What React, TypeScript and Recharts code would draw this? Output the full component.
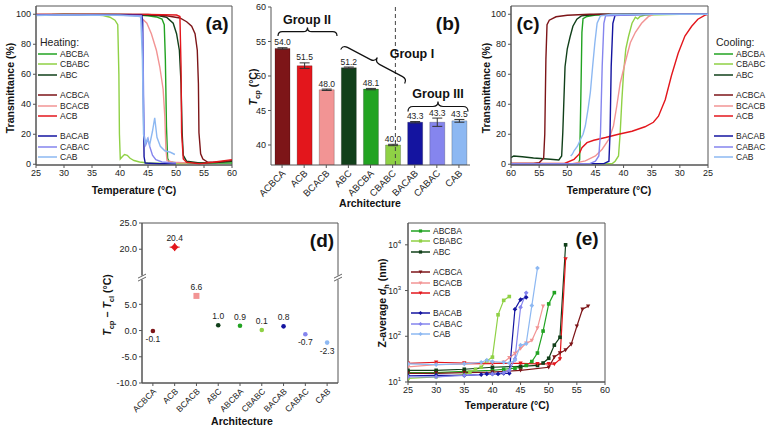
import React from 'react';
import {
  LineChart, Line, XAxis, YAxis, ReferenceArea, ReferenceLine, ReferenceDot,
  BarChart, Bar, Cell, ErrorBar, LabelList, ScatterChart, Scatter,
} from 'recharts';

const FONT = '"Liberation Sans", Arial, Helvetica, sans-serif';
const AXIS = '#555';
const INK = '#222';

// colours per polymer architecture (same in every panel)
const COLORS: Record<string, string> = {
  ABCBA: '#22a322',
  CBABC: '#8fd145',
  ABC: '#11401a',
  ACBCA: '#7d1518',
  BCACB: '#f29494',
  ACB: '#e3161c',
  BACAB: '#1414a0',
  CABAC: '#8585ee',
  CAB: '#8db8f2',
};
const LEGEND_GROUPS = [['ABCBA', 'CBABC', 'ABC'], ['ACBCA', 'BCACB', 'ACB'], ['BACAB', 'CABAC', 'CAB']];

const T_TICKS = [25, 30, 35, 40, 45, 50, 55, 60];
const PCT_TICKS = [0, 20, 40, 60, 80, 100];

// (a) heating turbidimetry: [T °C, transmittance %]
const heatABCBA = [[25, 99.6], [30, 99.8], [35, 99.8], [40, 99.7], [43, 99.5], [45, 99], [46.5, 98.2], [47.5, 96.8], [47.9, 93], [48.1, 70], [48.3, 25], [48.5, 4], [48.8, 1.5], [50, 1], [55, 0.8], [60, 0.8]];
const heatCBABC = [[25, 99.7], [30, 99.8], [35, 99.6], [37, 99.2], [38.2, 98], [39.1, 96], [39.6, 93], [39.8, 60], [39.9, 20], [40.05, 3.5], [40.4, 5], [40.8, 6.5], [41.3, 6], [41.8, 4], [42.5, 2.5], [43.5, 1.5], [45, 0.8], [48, 0.5], [52, 0.5]];
const heatABC = [[25, 99.6], [30, 99.8], [35, 99.8], [40, 99.8], [45, 99.5], [47, 99], [48.3, 98], [49.5, 94], [50.1, 87], [50.6, 76], [50.9, 54], [51.1, 21], [51.3, 6], [51.9, 2], [54.2, 0.8], [57, 1.2], [60, 2]];
const heatACBCA = [[25, 99.8], [35, 99.9], [45, 99.8], [48.3, 99], [50.7, 97.5], [51.9, 95], [52.8, 92], [53.4, 87], [53.8, 76], [54, 54], [54.1, 21], [54.4, 7], [54.8, 3.5], [55.7, 1.3], [57.2, 1.3], [60, 2.4]];
const heatBCACB = [[25, 99.7], [35, 99.8], [42, 99.5], [43.6, 98.4], [44.8, 94], [45.6, 87], [46.5, 76], [47.1, 65], [47.7, 50], [48, 32], [48.2, 10], [48.4, 2.4], [49.5, 1.3], [52, 0.8]];
const heatACB = [[25, 99.8], [35, 99.9], [45, 99.9], [50.1, 99.5], [50.7, 98.5], [50.9, 65], [51, 21], [51.3, 3.5], [51.9, 1.3], [54.2, 0.3], [56.6, 1.3], [60, 3.1]];
const heatBACAB = [[25, 99.5], [30, 99.7], [35, 99.7], [40, 99.6], [43.9, 99.4], [44.05, 95], [44.15, 50], [44.3, 5], [44.5, 0.8], [47, 0.3], [50, 0.3]];
const heatCABAC = [[25, 99.5], [35, 99.6], [43.8, 99], [44.1, 80], [44.3, 20], [44.6, 13], [45, 17], [45.3, 12], [45.8, 6], [46.4, 3], [47.5, 1.5], [49, 1], [50, 0.8]];
const heatCAB = [[25, 99.2], [30, 99.6], [35, 99.3], [40, 99.4], [43.7, 98.5], [44, 70], [44.2, 20], [44.5, 13.5], [44.9, 17], [45.3, 13], [45.8, 22], [46.2, 31], [46.6, 18], [47.2, 12], [48, 9], [49, 8], [49.8, 6.5]];

// (c) cooling turbidimetry: [T °C, transmittance %]
const coolABCBA = [[60, 0.4], [55, 0.4], [50, 0.4], [48, 0.5], [47.8, 3], [47.6, 43], [47.4, 88], [47.2, 97], [46.5, 98.5], [45, 99.5], [40, 100], [25, 100]];
const coolCBABC = [[60, 0.3], [50, 0.3], [42, 0.4], [41.5, 2], [40.9, 5.5], [40.6, 21], [40.3, 43], [40, 61], [39.6, 77], [39.1, 85.5], [38.5, 94], [37.9, 98], [37.5, 97], [37.1, 98.4], [36.2, 99.5], [30, 100], [25, 100]];
const coolABC = [[60, 4.4], [59.5, 5.5], [58, 5], [56, 4.2], [53, 3.3], [51.5, 2.9], [51, 5.5], [50.8, 21], [50.6, 43], [50.4, 65], [50, 77], [49.5, 85], [49, 92], [48.3, 96.7], [47.5, 98.9], [46, 99.5], [44, 100], [25, 100]];
const coolACBCA = [[60, 0.5], [56, 0.5], [55, 1], [54.2, 4], [54, 20], [53.8, 70], [53.6, 93], [53.2, 96], [52, 98.3], [50, 99.3], [46, 100], [25, 100]];
const coolBCACB = [[49.1, 0.4], [46.8, 2.2], [45, 5.5], [43.8, 10], [42.6, 16.7], [41.8, 25.5], [41.2, 39], [40.6, 54], [39.7, 68], [38.8, 81], [37.9, 88], [36.8, 94], [35.6, 98.4], [34.7, 100], [25, 100]];
const coolACB = [[60, 0.5], [50.5, 0.5], [48.8, 3.3], [47.9, 6.7], [47.4, 11], [46.5, 14.4], [45.3, 16], [43.2, 17.8], [40.9, 20], [38.5, 22], [36.2, 25], [34.7, 28], [33.8, 32], [32.6, 43], [31.5, 59], [30.3, 74], [29.1, 85.5], [27.9, 92], [26.8, 96.7], [25.6, 99.3], [25, 100]];
const coolBACAB = [[60, 0.3], [50, 0.3], [43.5, 0.4], [42.6, 2], [42.4, 21], [42.2, 65], [41.9, 94], [41.5, 99.5], [35, 100], [25, 100]];
const coolCABAC = [[60, 0.3], [50, 0.3], [46, 0.4], [45, 2], [44.4, 5.5], [44.1, 21], [43.8, 65], [43.5, 94], [43.2, 99], [35, 100], [25, 100]];
const coolCAB = [[49.4, 5.5], [49.1, 6.7], [48.8, 9], [48.2, 12], [47.6, 17], [47.2, 20], [46.8, 25.5], [46.3, 37], [45.9, 48], [45.5, 65], [45.1, 81], [44.7, 94], [44.1, 99], [42, 100], [25, 100]];

// (b) and (d): one value per architecture
const ARCH = ['ACBCA', 'ACB', 'BCACB', 'ABC', 'ABCBA', 'CBABC', 'BACAB', 'CABAC', 'CAB'];
const TCP = [54.0, 51.5, 48.0, 51.2, 48.1, 40.0, 43.3, 43.3, 43.5];
const TCP_ERR = [0.1, 0.4, 0.1, 0.1, 0.1, 0.1, 0.1, 0.6, 0.2];
const HYST = [-0.1, 20.4, 6.6, 1.0, 0.9, 0.1, 0.8, -0.7, -2.3];

// (e) DLS z-average size: [T °C, d_h nm]
const dlsABCBA = [[25, 16], [30, 16], [35, 17], [40, 18], [42, 19], [44, 20], [45, 21], [46, 23], [47, 28], [48, 43], [49, 130], [50, 510], [51, 900]];
const dlsCBABC = [[25, 12], [30, 13], [35, 14.5], [36, 16.5], [37, 19], [38, 21], [39, 29], [40, 35], [41, 295], [42, 610], [43, 740]];
const dlsABC = [[25, 18], [30, 18], [35, 19], [40, 21], [45, 22], [48, 23], [49, 26], [50, 33], [51, 64], [52, 95], [53, 10000]];
const dlsACBCA = [[25, 15.5], [30, 15.5], [35, 16], [40, 16.5], [45, 18], [50, 21], [51, 35], [52, 43], [53, 50], [54, 67], [55, 166], [56, 390], [57, 455]];
const dlsBCACB = [[25, 21.5], [30, 24], [35, 24.5], [40, 25], [42, 27], [43, 34], [44, 42], [45, 54], [46, 70], [47, 81], [48, 151], [49, 455]];
const dlsACB = [[25, 25.5], [30, 27], [35, 26], [40, 25.5], [45, 25.5], [48, 25], [50, 25], [51, 24.6], [52, 31.6], [53, 4900]];
const dlsBACAB = [[25, 13.7], [30, 14], [35, 14], [38, 14.5], [39, 15], [40, 15], [41, 15], [42, 15.5], [43, 15.5], [44, 390], [45, 635], [46, 710]];
const dlsCABAC = [[25, 13], [30, 13], [35, 14], [40, 15], [42, 16], [43, 18], [44, 32], [45, 430], [46, 890]];
const dlsCAB = [[25, 25], [30, 24], [35, 25], [38, 27], [39, 30], [40, 28], [42, 27], [43, 26], [44, 30], [45, 64], [46, 69], [47, 470], [48, 3100]];

const HEATING: Record<string, number[][]> = { ABCBA: heatABCBA, CBABC: heatCBABC, ABC: heatABC, ACBCA: heatACBCA, BCACB: heatBCACB, ACB: heatACB, BACAB: heatBACAB, CABAC: heatCABAC, CAB: heatCAB };
const COOLING: Record<string, number[][]> = { ABCBA: coolABCBA, CBABC: coolCBABC, ABC: coolABC, ACBCA: coolACBCA, BCACB: coolBCACB, ACB: coolACB, BACAB: coolBACAB, CABAC: coolCABAC, CAB: coolCAB };
const DLS: Record<string, number[][]> = { ABCBA: dlsABCBA, CBABC: dlsCBABC, ABC: dlsABC, ACBCA: dlsACBCA, BCACB: dlsBCACB, ACB: dlsACB, BACAB: dlsBACAB, CABAC: dlsCABAC, CAB: dlsCAB };

const toPts = (arr: number[][]) => arr.map(([t, v]) => ({ t, v }));
const TICK = { fontSize: 9, fill: INK, fontFamily: FONT };

// axis break for panel (d): values above the break are moved down by 4.5
const BREAK_AT = 10;
const BREAK_SHIFT = 4.5;
const brk = (v: number) => (v > BREAK_AT ? v - BREAK_SHIFT : v);
const unbrk = (v: number) => (v > BREAK_AT ? v + BREAK_SHIFT : v);

function groupOf(name: string) {
  return LEGEND_GROUPS.findIndex((g) => g.includes(name));
}

function Marker({ cx, cy, color, group, r = 1.8 }: any) {
  if (cx == null || cy == null) return null;
  if (group === 0) return <rect x={cx - r} y={cy - r} width={r * 2} height={r * 2} fill={color} />;
  if (group === 1) return <path d={`M${cx - r * 1.2},${cy - r} L${cx + r * 1.2},${cy - r} L${cx},${cy + r * 1.2} Z`} fill={color} />;
  return <path d={`M${cx},${cy - r * 1.3} L${cx + r * 1.3},${cy} L${cx},${cy + r * 1.3} L${cx - r * 1.3},${cy} Z`} fill={color} />;
}

function SeriesLegend({ left, top, title, markers }: any) {
  const rows: any[] = [];
  LEGEND_GROUPS.forEach((g, gi) => g.forEach((name, i) => rows.push({ name, gi, row: gi * 4 + i })));
  return (
    <div style={{ position: 'absolute', left, top, fontFamily: FONT, color: INK }}>
      {title && <div style={{ position: 'absolute', left: 2, top: -18, fontSize: 10.5, whiteSpace: 'nowrap' }}>{title}</div>}
      {rows.map((r) => (
        <div key={r.name} style={{ position: 'absolute', left: 0, top: r.row * 10.3 - 5, height: 10, display: 'flex', alignItems: 'center', whiteSpace: 'nowrap' }}>
          <svg width={20} height={10} style={{ display: 'block' }}>
            <line x1={0} y1={5} x2={19} y2={5} stroke={COLORS[r.name]} strokeWidth={1.5} />
            {markers && <Marker cx={9.5} cy={5} color={COLORS[r.name]} group={r.gi} r={1.6} />}
          </svg>
          <span style={{ fontSize: 8.5, marginLeft: 2 }}>{r.name}</span>
        </div>
      ))}
    </div>
  );
}

function TransPanel({ left, width, margin, series, reversed }: any) {
  return (
    <div style={{ position: 'absolute', left, top: 0 }}>
      <LineChart width={width} height={210} margin={margin}>
        <XAxis type="number" dataKey="t" domain={[25, 60]} ticks={T_TICKS} interval={0} reversed={reversed} allowDataOverflow height={30} tick={TICK} tickSize={3} stroke={AXIS} />
        <YAxis type="number" domain={[-0.5, 105.5]} ticks={PCT_TICKS} interval={0} allowDataOverflow width={30} tick={TICK} tickSize={3} stroke={AXIS} />
        <ReferenceArea x1={25} x2={60} y1={-0.5} y2={105.5} fill="none" stroke={AXIS} strokeWidth={1} />
        {Object.keys(series).map((name) => (
          <Line key={name} data={toPts(series[name])} dataKey="v" type="linear" dot={false} stroke={COLORS[name]} strokeWidth={1.4} isAnimationActive={false} />
        ))}
      </LineChart>
    </div>
  );
}

function RotTick({ x, y, payload, labels, size }: any) {
  const label = labels ? labels[payload.value] : payload.value;
  const ax = x + 4;
  const ay = y + 4;
  return (
    <text x={ax} y={ay} transform={`rotate(-45 ${ax} ${ay})`} textAnchor="end" fontSize={size} fill={INK} fontFamily={FONT}>
      {label}
    </text>
  );
}

function BarValue({ x, y, width, value, index }: any) {
  const errPx = TCP_ERR[index] * 6.9;
  return (
    <text x={x + width / 2} y={y - errPx - 2.5} textAnchor="middle" fontSize={8.5} fill={INK} fontFamily={FONT}>
      {Number(value).toFixed(1)}
    </text>
  );
}

function BreakMark({ cx, cy }: any) {
  if (cx == null || cy == null) return null;
  return (
    <g>
      <rect x={cx - 4} y={cy - 2.5} width={8} height={4} fill="#fff" />
      <line x1={cx - 4} y1={cy} x2={cx + 4} y2={cy - 4} stroke={AXIS} strokeWidth={0.9} />
      <line x1={cx - 4} y1={cy + 3} x2={cx + 4} y2={cy - 1} stroke={AXIS} strokeWidth={0.9} />
    </g>
  );
}

function HystPoint({ cx, cy, payload }: any) {
  if (cx == null || cy == null) return null;
  const c = COLORS[payload.name];
  const raw = payload.raw;
  let mark;
  if (payload.name === 'ACB') {
    mark = (
      <g>
        <line x1={cx} y1={cy - 4} x2={cx} y2={cy + 4} stroke={c} strokeWidth={1} />
        <line x1={cx - 5} y1={cy} x2={cx + 5} y2={cy} stroke={c} strokeWidth={1} />
        <path d={`M${cx},${cy - 3.8} L${cx + 3.8},${cy} L${cx},${cy + 3.8} L${cx - 3.8},${cy} Z`} fill={c} />
      </g>
    );
  } else if (payload.name === 'BCACB') {
    mark = <rect x={cx - 3} y={cy - 3} width={6} height={6} fill={c} />;
  } else {
    mark = <circle cx={cx} cy={cy} r={2.3} fill={c} />;
  }
  const below = raw < 0;
  return (
    <g>
      {mark}
      <text x={cx} y={below ? cy + 11 : cy - 6} textAnchor="middle" fontSize={8.5} fill={INK} fontFamily={FONT}>
        {raw.toFixed(1)}
      </text>
    </g>
  );
}

function PowTick({ x, y, payload }: any) {
  const exp = Math.round(Math.log10(payload.value));
  return (
    <text x={x - 2} y={y + 3} textAnchor="end" fontSize={8.5} fill={INK} fontFamily={FONT}>
      10<tspan dy={-4} fontSize={6}>{exp}</tspan>
    </text>
  );
}

function bracePath(len: number, h: number) {
  const m = len / 2;
  return `M0,${h} Q0,0 ${h},0 L${m - h},0 Q${m},0 ${m},${-h} Q${m},0 ${m + h},0 L${len - h},0 Q${len},0 ${len},${h}`;
}

function Titles() {
  const bold = { fontFamily: FONT, fontWeight: 700, fontSize: 10.5, fill: '#111' } as any;
  const panel = { fontFamily: FONT, fontWeight: 700, fontSize: 19, fill: '#111' } as any;
  const group = { fontFamily: FONT, fontWeight: 700, fontSize: 12.5, fill: '#111' } as any;
  const ga = Math.atan2(79 - 45, 407 - 343) * 180 / Math.PI;
  const gl = Math.hypot(407 - 343, 79 - 45);
  return (
    <svg width={767} height={429} style={{ position: 'absolute', left: 0, top: 0, pointerEvents: 'none' }}>
      {/* axis titles */}
      <text x={134} y={194} textAnchor="middle" {...bold}>Temperature (°C)</text>
      <text transform="translate(14,88) rotate(-90)" textAnchor="middle" {...bold}>Transmittance (%)</text>
      <text x={370} y={207} textAnchor="middle" {...bold}>Architecture</text>
      <text transform="translate(257,87) rotate(-90)" textAnchor="middle" {...bold}>
        <tspan fontStyle="italic">T</tspan><tspan dy={2.5} fontSize={7.5}>cp</tspan><tspan dy={-2.5}> (°C)</tspan>
      </text>
      <text x={609} y={194} textAnchor="middle" {...bold}>Temperature (°C)</text>
      <text transform="translate(490,88) rotate(-90)" textAnchor="middle" {...bold}>Transmittance (%)</text>
      <text x={242} y={425} textAnchor="middle" {...bold}>Architecture</text>
      <text transform="translate(111,305) rotate(-90)" textAnchor="middle" {...bold}>
        <tspan fontStyle="italic">T</tspan><tspan dy={2.5} fontSize={7.5}>cp</tspan><tspan dy={-2.5}> − </tspan>
        <tspan fontStyle="italic">T</tspan><tspan dy={2.5} fontSize={7.5}>cl</tspan><tspan dy={-2.5}> (°C)</tspan>
      </text>
      <text x={507} y={409} textAnchor="middle" {...bold}>Temperature (°C)</text>
      <text transform="translate(386,303) rotate(-90)" textAnchor="middle" {...bold}>
        Z-average <tspan fontStyle="italic">d</tspan><tspan dy={2.5} fontSize={7.5}>h</tspan><tspan dy={-2.5}> (nm)</tspan>
      </text>
      {/* panel letters */}
      <text x={217} y={30} textAnchor="middle" {...panel}>(a)</text>
      <text x={448} y={30} textAnchor="middle" {...panel}>(b)</text>
      <text x={528} y={30} textAnchor="middle" {...panel}>(c)</text>
      <text x={322} y={247} textAnchor="middle" {...panel}>(d)</text>
      <text x={587} y={245} textAnchor="middle" {...panel}>(e)</text>
      {/* groups in (b) */}
      <text x={307} y={24} textAnchor="middle" {...group}>Group II</text>
      <path d={bracePath(59, 4.3)} transform="translate(278,31.7)" fill="none" stroke="#111" strokeWidth={1.2} />
      <text x={412} y={58} textAnchor="middle" {...group}>Group I</text>
      <path d={bracePath(gl, 5)} transform={`translate(343,45) rotate(${ga})`} fill="none" stroke="#111" strokeWidth={1.2} />
      <text x={438} y={98} textAnchor="middle" {...group}>Group III</text>
      <path d={bracePath(60, 5)} transform="translate(408,106.5)" fill="none" stroke="#111" strokeWidth={1.2} />
    </svg>
  );
}

export default function App() {
  const barData = ARCH.map((name, i) => ({ name, v: TCP[i], err: TCP_ERR[i] }));
  const hystData = ARCH.map((name, i) => ({ x: i, y: brk(HYST[i]), raw: HYST[i], name }));
  const dTicks = [-10, -5, 0, 5, brk(20), brk(25)];

  return (
    <div style={{ position: 'absolute', left: 0, top: 0, width: 767, height: 429, background: '#fff', fontFamily: FONT, overflow: 'hidden' }}>
      {/* (a) heating */}
      <TransPanel left={0} width={250} margin={{ top: 6, right: 18, bottom: 15, left: 6 }} series={HEATING} reversed={false} />

      {/* (b) cloud points */}
      <div style={{ position: 'absolute', left: 250, top: 0 }}>
        <BarChart width={250} height={210} data={barData} margin={{ top: 7, right: 30, bottom: 5, left: 1 }} barSize={15}>
          <XAxis dataKey="name" interval={0} height={40} tickSize={3} stroke={AXIS} tick={(p: any) => <RotTick {...p} size={9.5} />} />
          <XAxis xAxisId="n" type="number" domain={[0, 9]} hide />
          <YAxis type="number" domain={[37.1, 60]} ticks={[40, 45, 50, 55, 60]} interval={0} allowDataOverflow width={20} tick={TICK} tickSize={3} stroke={AXIS} />
          <ReferenceArea xAxisId="n" x1={0} x2={9} y1={37.1} y2={60} fill="none" stroke={AXIS} />
          <ReferenceLine xAxisId="n" x={5} stroke="#444" strokeDasharray="4 3" />
          <Bar dataKey="v" isAnimationActive={false} strokeWidth={0.6}>
            {barData.map((d) => (
              <Cell key={d.name} fill={COLORS[d.name]} stroke="rgba(0,0,0,0.35)" />
            ))}
            <ErrorBar dataKey="err" width={5} stroke="#333" strokeWidth={1} />
            <LabelList dataKey="v" content={BarValue} />
          </Bar>
        </BarChart>
      </div>

      {/* (c) cooling */}
      <TransPanel left={470} width={297} margin={{ top: 6, right: 59, bottom: 15, left: 11 }} series={COOLING} reversed />

      {/* (d) hysteresis */}
      <div style={{ position: 'absolute', left: 100, top: 210 }}>
        <ScatterChart width={260} height={219} margin={{ top: 13, right: 22, bottom: 6, left: 6 }}>
          <XAxis type="number" dataKey="x" domain={[-0.5, 8.5]} ticks={[0, 1, 2, 3, 4, 5, 6, 7, 8]} interval={0} allowDataOverflow height={40} tickSize={3} stroke={AXIS}
            tick={(p: any) => <RotTick {...p} labels={ARCH} size={8.5} />} />
          <YAxis type="number" dataKey="y" domain={[-10, brk(25)]} ticks={dTicks} interval={0} allowDataOverflow width={36} tick={TICK} tickSize={3} stroke={AXIS}
            tickFormatter={(v: number) => unbrk(v).toFixed(1)} />
          <ReferenceArea x1={-0.5} x2={8.5} y1={-10} y2={brk(25)} fill="none" stroke={AXIS} />
          <ReferenceDot x={-0.5} y={BREAK_AT} ifOverflow="visible" shape={BreakMark} />
          <ReferenceDot x={8.5} y={BREAK_AT} ifOverflow="visible" shape={BreakMark} />
          <Scatter data={hystData} shape={HystPoint} isAnimationActive={false} />
        </ScatterChart>
      </div>

      {/* (e) DLS */}
      <div style={{ position: 'absolute', left: 360, top: 210 }}>
        <LineChart width={260} height={219} margin={{ top: 13, right: 15, bottom: 12, left: 8 }}>
          <XAxis type="number" dataKey="t" domain={[25, 60]} ticks={T_TICKS} interval={0} allowDataOverflow height={35} tick={TICK} tickSize={3} stroke={AXIS} />
          <YAxis type="number" scale="log" domain={[10, 30000]} ticks={[10, 100, 1000, 10000]} interval={0} allowDataOverflow width={40} tick={PowTick} tickSize={3} stroke={AXIS} />
          <ReferenceArea x1={25} x2={60} y1={10} y2={30000} fill="none" stroke={AXIS} />
          {Object.keys(DLS).map((name) => (
            <Line key={name} data={toPts(DLS[name])} dataKey="v" type="linear" stroke={COLORS[name]} strokeWidth={1.2} isAnimationActive={false}
              dot={(p: any) => <Marker key={`${name}-${p.index}`} cx={p.cx} cy={p.cy} color={COLORS[name]} group={groupOf(name)} />} />
          ))}
        </LineChart>
      </div>

      <SeriesLegend left={38} top={54} title="Heating:" />
      <SeriesLegend left={714} top={54} title="Cooling:" />
      <SeriesLegend left={411} top={231} markers />
      <Titles />
    </div>
  );
}
